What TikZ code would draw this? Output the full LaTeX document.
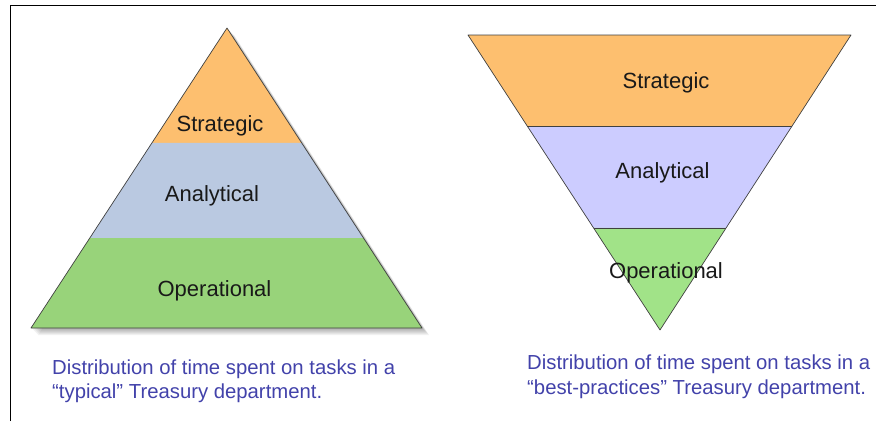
\documentclass[tikz,border=0pt]{standalone}
\usepackage{fontspec}
\setmainfont{Liberation Sans}
\usetikzlibrary{calc}
\definecolor{strat}{RGB}{253,191,111}
\definecolor{analyt}{RGB}{186,201,225}
\definecolor{oper}{RGB}{152,211,122}
\definecolor{analytb}{RGB}{204,204,255}
\definecolor{operb}{RGB}{161,227,136}
\definecolor{capblue}{RGB}{66,66,170}

\begin{document}
\begin{tikzpicture}[x=1pt,y=-1pt,
		band/.style={draw=black!75,line width=0.7pt,line join=round},
		lbl/.style={anchor=base,inner sep=0pt,font=\fontsize{22}{24}\selectfont,text=black!90},
		captext/.style={anchor=base west,inner sep=0pt,font=\fontsize{20.3}{24}\selectfont,text=capblue}]
	\useasboundingbox (0,0) rectangle (876,421);
	\draw[line width=1pt] (10,421) -- (10,5) -- (876,5);
	% typical department: pyramid standing on its base
	\coordinate (ptop) at (227,28);
	\coordinate (pbl) at (31,328);
	\coordinate (pbr) at (422,328);
	\coordinate (psl) at ($(ptop)!0.383!(pbl)$);
	\coordinate (psr) at ($(ptop)!0.383!(pbr)$);
	\coordinate (pal) at ($(ptop)!0.7!(pbl)$);
	\coordinate (par) at ($(ptop)!0.7!(pbr)$);
	\foreach \k in {1,...,7}
		\fill[black,opacity=0.05] ($(ptop)+(\k,\k)$) -- ($(pbl)+(\k,\k)$) -- ($(pbr)+(\k,\k)$) -- cycle;
	\fill[strat] (ptop) -- (psl) -- (psr) -- cycle;
	\fill[analyt] (psl) -- (pal) -- (par) -- (psr) -- cycle;
	\fill[oper] (pal) -- (pbl) -- (pbr) -- (par) -- cycle;
	\draw[band] (ptop) -- (pbl) -- (pbr) -- cycle;
	\node[lbl] (pstrat) at (220,131.5) {Strategic};
	\node[lbl] (panalyt) at (212,201) {Analytical};
	\node[lbl] (poper) at (214.5,296) {Operational};
	\node[captext] (pcapa) at (52,374) {Distribution of time spent on tasks in a};
	\node[captext] (pcapb) at (52,398) {“typical” Treasury department.};
	% best-practices department: the pyramid turned upside down
	\coordinate (itl) at (468,35);
	\coordinate (itr) at (851,35);
	\coordinate (ibot) at (660,330);
	\coordinate (isl) at ($(ibot)!0.6915!(itl)$);
	\coordinate (isr) at ($(ibot)!0.6915!(itr)$);
	\coordinate (ial) at ($(ibot)!0.3458!(itl)$);
	\coordinate (iar) at ($(ibot)!0.3458!(itr)$);
	\fill[strat] (itl) -- (itr) -- (isr) -- (isl) -- cycle;
	\fill[analytb] (isl) -- (isr) -- (iar) -- (ial) -- cycle;
	\fill[operb] (ial) -- (iar) -- (ibot) -- cycle;
	\draw[band] (isl) -- (isr) (ial) -- (iar);
	\draw[band] (itl) -- (itr) -- (ibot) -- cycle;
	\node[lbl] (istrat) at (666,88) {Strategic};
	\node[lbl] (ianalyt) at (662.5,178) {Analytical};
	\node[lbl] (ioper) at (666,278) {Operational};
	\node[captext] (icapa) at (527,369) {Distribution of time spent on tasks in a};
	\node[captext] (icapb) at (527,394) {“best-practices” Treasury department.};
\end{tikzpicture}
\end{document}
